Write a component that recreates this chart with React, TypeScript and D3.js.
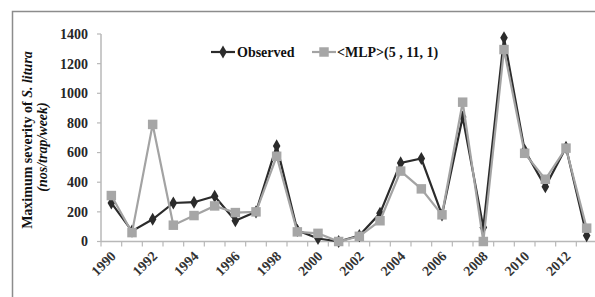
import React, { useRef, useEffect } from "react";
import * as d3 from "d3";

const years = d3.range(1990, 2014).map(String);
const observed = [260, 70, 150, 260, 265, 305, 140, 200, 645, 75, 20, 0, 40, 190, 530, 560, 180, 840, 95, 1375, 615, 370, 635, 40];
const mlp = [310, 60, 790, 110, 175, 240, 195, 200, 575, 65, 55, 0, 35, 140, 475, 355, 180, 940, 0, 1295, 595, 420, 630, 90];
const yTicks = [0, 200, 400, 600, 800, 1000, 1200, 1400];
const seriesNames = ["Observed", "<MLP>(5 , 11, 1)"];

const W = 595;
const H = 297;

export default function App() {
  const svgRef = useRef<SVGSVGElement>(null);

  useEffect(() => {
    const svg = d3.select(svgRef.current);
    svg.selectAll("*").remove();

    const font = "'Liberation Serif', 'Times New Roman', serif";
    const axisColor = "#b8b8b8";

    // outer frame (cut by the image on right/bottom)
    svg.append("rect")
      .attr("x", 12.5).attr("y", 11.5)
      .attr("width", 700).attr("height", 400)
      .attr("fill", "none").attr("stroke", "#8c8c8c").attr("stroke-width", 1.5);

    const x = d3.scaleBand().domain(years).range([101, 597]);
    const y = d3.scaleLinear().domain([0, 1400]).range([241.5, 34]);
    const cx = (d: string) => (x(d) as number) + x.bandwidth() / 2;

    // y axis
    svg.append("line")
      .attr("x1", x.range()[0]).attr("x2", x.range()[0])
      .attr("y1", y(0)).attr("y2", y(1400))
      .attr("stroke", axisColor).attr("stroke-width", 1.5);
    svg.selectAll(".ytick").data(yTicks).enter().append("line")
      .attr("x1", x.range()[0] - 4).attr("x2", x.range()[0])
      .attr("y1", d => y(d)).attr("y2", d => y(d))
      .attr("stroke", axisColor).attr("stroke-width", 1.2);
    svg.selectAll(".ylab").data(yTicks).enter().append("text")
      .attr("x", 88).attr("y", d => y(d)).attr("dy", "0.35em")
      .attr("text-anchor", "end")
      .style("font-family", font).style("font-size", "14px").style("font-weight", "bold")
      .attr("fill", "#262626")
      .text(d => d);

    // x axis
    svg.append("line")
      .attr("x1", x.range()[0]).attr("x2", x.range()[1])
      .attr("y1", y(0)).attr("y2", y(0))
      .attr("stroke", axisColor).attr("stroke-width", 1.5);
    svg.selectAll(".xtick").data(years).enter().append("line")
      .attr("x1", d => x(d) as number).attr("x2", d => x(d) as number)
      .attr("y1", y(0)).attr("y2", y(0) + 5)
      .attr("stroke", axisColor).attr("stroke-width", 1.2);
    svg.selectAll(".xlab").data(years.filter((d, i) => i % 2 === 0)).enter().append("text")
      .attr("transform", d => `translate(${cx(d) + 2},${y(0) + 12}) rotate(-45)`)
      .attr("text-anchor", "end").attr("dy", "0.35em")
      .style("font-family", font).style("font-size", "14px").style("font-weight", "bold")
      .attr("fill", "#333")
      .text(d => d);

    // y axis title
    const t1 = svg.append("text")
      .attr("transform", "translate(32,140) rotate(-90)")
      .attr("text-anchor", "middle")
      .style("font-family", font).style("font-size", "14px").style("font-weight", "bold")
      .attr("fill", "#111");
    t1.append("tspan").text("Maximum severity of ");
    t1.append("tspan").style("font-style", "italic").text("S. litura");
    svg.append("text")
      .attr("transform", "translate(47,147) rotate(-90)")
      .attr("text-anchor", "middle")
      .style("font-family", font).style("font-size", "14px").style("font-weight", "bold")
      .style("font-style", "italic")
      .attr("fill", "#111")
      .text("(nos/trap/week)");

    const line = d3.line<number>()
      .x((d, i) => cx(years[i]))
      .y(d => y(d));

    const diamond = d3.symbol().type(d3.symbolDiamond).size(50);
    const square = d3.symbol().type(d3.symbolSquare).size(90);

    // observed
    svg.append("path").datum(observed)
      .attr("d", line).attr("fill", "none")
      .attr("stroke", "#2b2b2b").attr("stroke-width", 2.2);
    svg.selectAll(".obs").data(observed).enter().append("path")
      .attr("transform", (d, i) => `translate(${cx(years[i])},${y(d)})`)
      .attr("d", diamond()).attr("fill", "#2b2b2b");

    // MLP
    svg.append("path").datum(mlp)
      .attr("d", line).attr("fill", "none")
      .attr("stroke", "#a3a3a3").attr("stroke-width", 2.2);
    svg.selectAll(".mlp").data(mlp).enter().append("path")
      .attr("transform", (d, i) => `translate(${cx(years[i])},${y(d)})`)
      .attr("d", square()).attr("fill", "#a6a6a6");

    // legend
    const ly = 52;
    const lg = svg.append("g");
    lg.append("line").attr("x1", 211).attr("x2", 235).attr("y1", ly).attr("y2", ly)
      .attr("stroke", "#2b2b2b").attr("stroke-width", 2.2);
    lg.append("path").attr("transform", `translate(223,${ly})`).attr("d", diamond()).attr("fill", "#2b2b2b");
    lg.append("text").attr("x", 237).attr("y", ly).attr("dy", "0.35em")
      .style("font-family", font).style("font-size", "14px").style("font-weight", "bold")
      .attr("fill", "#111").text(seriesNames[0]);
    lg.append("line").attr("x1", 312).attr("x2", 336).attr("y1", ly).attr("y2", ly)
      .attr("stroke", "#a3a3a3").attr("stroke-width", 2.2);
    lg.append("path").attr("transform", `translate(324,${ly})`).attr("d", square()).attr("fill", "#a6a6a6");
    lg.append("text").attr("x", 337).attr("y", ly).attr("dy", "0.35em")
      .style("font-family", font).style("font-size", "14px").style("font-weight", "bold")
      .attr("fill", "#111").text(seriesNames[1]);
  }, []);

  return (
    <div style={{ position: "fixed", left: 0, top: 0, width: W, height: H, background: "#fff", overflow: "hidden" }}>
      <svg ref={svgRef} width={W} height={H} />
    </div>
  );
}
